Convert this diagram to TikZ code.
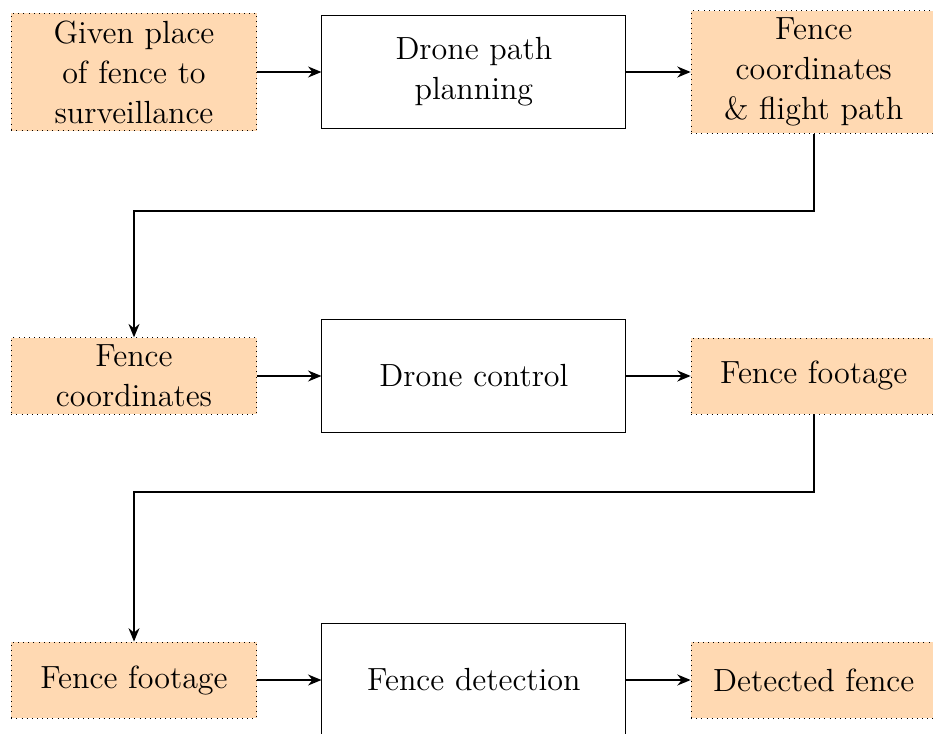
\documentclass[tikz,border=0pt]{standalone}
\usepackage{fontspec}
\setmainfont{lmroman12-regular.otf}
\usepackage{tikz}
\usetikzlibrary{arrows.meta,positioning}
\tikzset{>/.tip={Stealth[length=2.2mm,width=1.8mm]}}

\begin{document}
\begin{tikzpicture}[node distance=5cm and 5.59cm,font=\fontsize{15}{18.75}\selectfont,on grid,
    data/.style={draw,dotted,fill=orange!30,text width=3.8cm,align=center,minimum height=1.25cm},
    proc/.style={draw,thin,text width=4cm,align=center,minimum width=5cm,minimum height=1.86cm}]
        \useasboundingbox (-2.204,1.184) rectangle (13.141,-10.888);
        \node[data](place){Given place\\of fence to\\surveillance};
        \node[proc](plan)[right=of place]{Drone path\\planning};
        \node[data](fcfp)[right=of plan]{Fence\\coordinates\\\& flight path};
        \node[data](coords)[below=of place]{Fence\\coordinates};
        \node[proc](ctrl)[right=of coords]{Drone control};
        \node[data](foot)[right=of ctrl]{Fence footage};
        \node[data](footin)[below=of coords]{Fence footage};
        \node[proc](detect)[right=of footin]{Fence detection};
        \node[data](found)[right=of detect]{Detected fence};
        \draw[->,thick]
        (place) edge (plan)
        (plan) edge (fcfp)
        (coords) edge (ctrl)
        (ctrl) edge (foot)
        (footin) edge (detect)
        (detect) edge (found);
        \draw[->,thick] (fcfp.south) -- ++(0,-1.27) -| (coords.north);
        \draw[->,thick] (foot.south) -- ++(0,-1.27) -| (footin.north);
      \end{tikzpicture}
\end{document}
